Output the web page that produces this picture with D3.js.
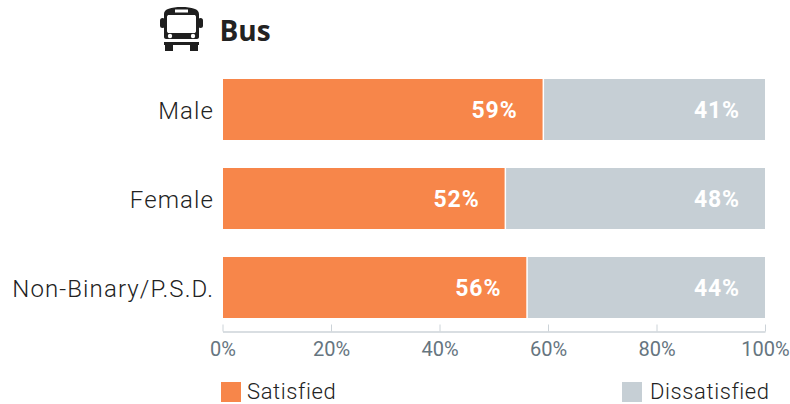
<!DOCTYPE html>
<html>
<head>
<meta charset="utf-8">
<script src="https://cdnjs.cloudflare.com/ajax/libs/d3/7.8.5/d3.min.js"></script>
<style>
	html, body { margin: 0; padding: 0; background: #fff; }
	svg { display: block; }
	text { font-family: Roboto, sans-serif; }
</style>
</head>
<body>
<div id="chart"></div>
<script>
var title = "Bus";
var categories = ["Male", "Female", "Non-Binary/P.S.D."];
var satisfied = [59, 52, 56];
var dissatisfied = [41, 48, 44];
var ticks = [0, 20, 40, 60, 80, 100];
var seriesNames = ["Satisfied", "Dissatisfied"];
var seriesColors = ["#f7864a", "#c6cfd5"];

var width = 790, height = 404;

var svg = d3.select("#chart").append("svg")
	.attr("width", width)
	.attr("height", height);

var x = d3.scaleLinear().domain([0, 100]).range([222.5, 765]);
var y = d3.scaleBand()
	.domain(categories)
	.range([79, 318])
	.paddingInner(28 / 89)
	.paddingOuter(0);

// axis
var xAxis = d3.axisBottom(x)
	.tickValues(ticks)
	.tickFormat(d => d + "%")
	.tickSizeInner(-7)
	.tickSizeOuter(0)
	.tickPadding(13);

var axisG = svg.append("g")
	.attr("transform", "translate(0,331.5)")
	.call(xAxis);
axisG.select(".domain").attr("stroke", "#ccd3d8").attr("stroke-width", 1.5);
axisG.selectAll(".tick line").attr("stroke", "#ccd3d8").attr("stroke-width", 1);
axisG.selectAll(".tick text")
	.attr("fill", "#66757f")
	.style("font-size", "20px")
	.style("font-family", "Roboto, sans-serif")
	.attr("y", 7)
	.attr("dy", "0.85em");

// bars
var rows = svg.selectAll(".row")
	.data(categories)
	.enter()
	.append("g")
	.attr("class", "row");

rows.append("rect")
	.attr("x", x(0) + 0.5)
	.attr("y", d => y(d))
	.attr("height", y.bandwidth())
	.attr("width", (d, i) => x(satisfied[i]) - x(0) - 0.5)
	.attr("fill", seriesColors[0]);

rows.append("rect")
	.attr("x", (d, i) => x(satisfied[i]) + 1.5)
	.attr("y", d => y(d))
	.attr("height", y.bandwidth())
	.attr("width", (d, i) => x(100) - x(satisfied[i]) - 1.5)
	.attr("fill", seriesColors[1]);

rows.append("text")
	.attr("x", 214)
	.attr("y", d => y(d) + y.bandwidth() / 2 + 9)
	.attr("text-anchor", "end")
	.attr("fill", "#222")
	.style("font-size", "24px")
	.style("font-weight", 300)
	.style("letter-spacing", "1.1px")
	.text(d => d);

rows.append("text")
	.attr("x", (d, i) => x(satisfied[i]) - 25)
	.attr("y", d => y(d) + y.bandwidth() / 2 + 8)
	.attr("text-anchor", "end")
	.attr("fill", "#fff")
	.style("font-size", "23px")
	.style("font-weight", 700)
	.style("letter-spacing", "0.9px")
	.text((d, i) => satisfied[i] + "%");

rows.append("text")
	.attr("x", x(100) - 25)
	.attr("y", d => y(d) + y.bandwidth() / 2 + 8)
	.attr("text-anchor", "end")
	.attr("fill", "#fff")
	.style("font-size", "23px")
	.style("font-weight", 700)
	.style("letter-spacing", "0.9px")
	.text((d, i) => dissatisfied[i] + "%");

// title and icon
var icon = svg.append("g").attr("transform", "translate(160,7)").attr("fill", "#1f1f1f");
icon.append("path")
	.attr("fill-rule", "evenodd")
	.attr("d", "M4 7 C4 2 11 0 21.5 0 C32 0 39 2 39 7 V30 C39 31 38 32 37 32 H6 C5 32 4 31 4 30 Z M7 10 V24 C7 25.5 8 26 9 26 H34 C35 26 36 25.5 36 24 V10 C36 8.5 35 8 34 8 H9 C8 8 7 8.5 7 10 Z M15 2.5 V5.5 H28 V2.5 Z");
icon.append("rect").attr("x", 0).attr("y", 11).attr("width", 5).attr("height", 10).attr("rx", 2.5);
icon.append("rect").attr("x", 38).attr("y", 11).attr("width", 5).attr("height", 10).attr("rx", 2.5);
icon.append("rect").attr("x", 4).attr("y", 35).attr("width", 35).attr("height", 3);
icon.append("rect").attr("x", 5).attr("y", 38).attr("width", 8).attr("height", 6);
icon.append("rect").attr("x", 30).attr("y", 38).attr("width", 8).attr("height", 6);
icon.append("circle").attr("cx", 10).attr("cy", 29).attr("r", 2.2).attr("fill", "#fff");
icon.append("circle").attr("cx", 33).attr("cy", 29).attr("r", 2.2).attr("fill", "#fff");

svg.append("text")
	.attr("x", 219.5)
	.attr("y", 41)
	.attr("fill", "#222")
	.style("font-family", "'Open Sans', sans-serif")
	.style("font-size", "28px")
	.style("font-weight", 700)
	.text(title);

// legend
var legendX = [221, 622];
var legend = svg.selectAll(".legend")
	.data(seriesNames)
	.enter()
	.append("g")
	.attr("class", "legend");

legend.append("rect")
	.attr("x", (d, i) => legendX[i])
	.attr("y", 382)
	.attr("width", 20)
	.attr("height", 20)
	.attr("fill", (d, i) => seriesColors[i]);

legend.append("text")
	.attr("x", (d, i) => legendX[i] + (i ? 28 : 26))
	.attr("y", 399)
	.attr("fill", "#222")
	.style("font-size", "22px")
	.style("font-weight", 300)
	.style("letter-spacing", "0.6px")
	.text(d => d);
</script>
</body>
</html>
